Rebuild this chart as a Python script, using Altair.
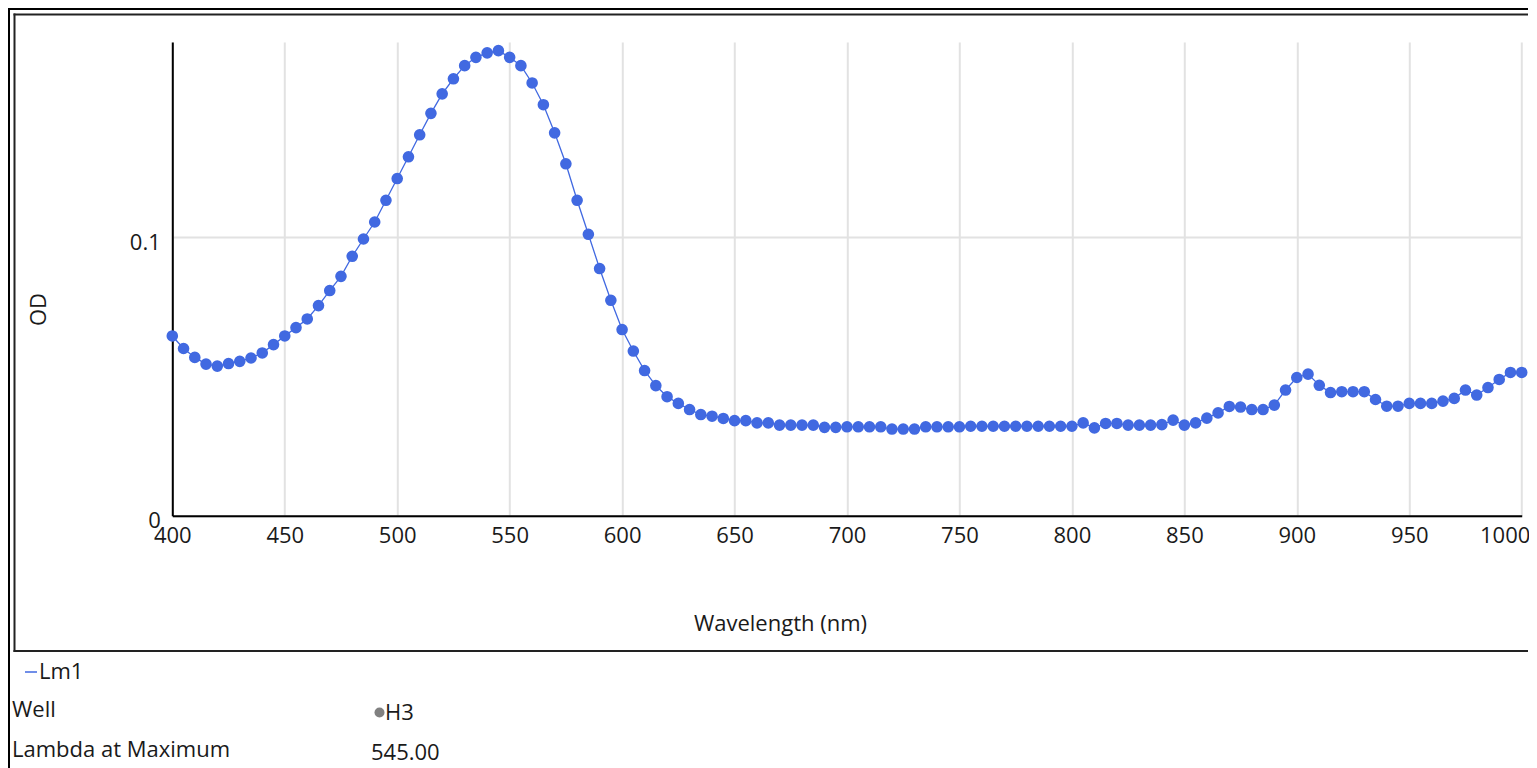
import altair as alt
import pandas as pd

# ---------------- data ----------------
wavelengths = list(range(400, 1001, 5))
od = [
    0.0645, 0.0600, 0.0568, 0.0544, 0.0537, 0.0546, 0.0554, 0.0566, 0.0584, 0.0614,  # 400-445
    0.0645, 0.0675, 0.0706, 0.0754, 0.0808, 0.0859, 0.0931, 0.0993, 0.1054, 0.1132,  # 450-495
    0.1210, 0.1288, 0.1367, 0.1444, 0.1514, 0.1568, 0.1615, 0.1645, 0.1661, 0.1669,  # 500-545
    0.1645, 0.1615, 0.1553, 0.1475, 0.1374, 0.1263, 0.1132, 0.1010, 0.0887, 0.0773,  # 550-595
    0.0668, 0.0591, 0.0521, 0.0467, 0.0427, 0.0403, 0.0381, 0.0363, 0.0357, 0.0349,  # 600-645
    0.0341, 0.0341, 0.0333, 0.0333, 0.0325, 0.0325, 0.0325, 0.0325, 0.0317, 0.0317,  # 650-695
    0.0319, 0.0319, 0.0319, 0.0319, 0.0311, 0.0311, 0.0311, 0.0319, 0.0319, 0.0319,  # 700-745
    0.0319, 0.0321, 0.0321, 0.0321, 0.0321, 0.0321, 0.0321, 0.0321, 0.0321, 0.0321,  # 750-795
    0.0321, 0.0333, 0.0315, 0.0331, 0.0331, 0.0325, 0.0325, 0.0325, 0.0327, 0.0343,  # 800-845
    0.0325, 0.0333, 0.0350, 0.0369, 0.0392, 0.0390, 0.0381, 0.0381, 0.0397, 0.0451,  # 850-895
    0.0496, 0.0508, 0.0468, 0.0442, 0.0445, 0.0445, 0.0445, 0.0417, 0.0393, 0.0393,  # 900-945
    0.0403, 0.0403, 0.0403, 0.0411, 0.0421, 0.0451, 0.0433, 0.0460, 0.0489, 0.0514,  # 950-995
    0.0514,                                                                            # 1000
]
assert len(wavelengths) == len(od)

x_ticks = list(range(400, 1001, 50))
y_ticks = [0, 0.1]
x_title = "Wavelength (nm)"
y_title = "OD"
series_name = "Lm1"
well_label, well_value = "Well", "H3"
lambda_label, lambda_value = "Lambda at Maximum", "545.00"

df = pd.DataFrame({"Wavelength": wavelengths, "OD": od})

BLUE = "#4169E1"
FONT = "Open Sans"
FS = 22
TXT = "#1a1a1a"

# plot area placement (page pixels)
X0, Y0 = 172.3, 42.0
W, H = 1349.4, 473.7
PAGE_W, PAGE_H = 1521, 760
RIGHT_END = 8 + PAGE_W - 1  # frames run to the right edge of the picture


def vx(px):
    return px - X0


def vy(py):
    return py - Y0


x_enc = alt.X(
    "Wavelength:Q",
    scale=alt.Scale(domain=[400, 1000], nice=False, zero=False),
    axis=alt.Axis(
        values=x_ticks,
        format="d",
        title=x_title,
        titleX=vx(780),
        titleY=623 - (Y0 + H),
        titleAlign="center",
        titleBaseline="middle",
        titleFont=FONT,
        titleFontSize=FS,
        titleFontWeight="normal",
        titleColor=TXT,
        labelFont=FONT,
        labelFontSize=FS,
        labelColor=TXT,
        labelFlush=False,
        labelBaseline="middle",
        labelPadding=20,
        labelOffset={"condition": {"test": "datum.value === 1000", "value": -17}, "value": 0},
        labelOverlap=False,
        ticks=False,
        tickSize=0,
        domainColor="#000000",
        domainWidth=2,
        grid=True,
        gridColor="#e2e2e2",
        gridWidth=2,
    ),
)
y_enc = alt.Y(
    "OD:Q",
    scale=alt.Scale(domain=[0, 0.17], nice=False),
    axis=alt.Axis(
        values=y_ticks,
        format=".2~f",
        title=y_title,
        titleX=vx(38),
        titleY=vy(309),
        titleAngle=270,
        titleAlign="center",
        titleBaseline="middle",
        titleFont=FONT,
        titleFontSize=FS,
        titleFontWeight="normal",
        titleColor=TXT,
        labelFont=FONT,
        labelFontSize=FS,
        labelColor=TXT,
        labelBaseline="middle",
        labelOffset=5,
        labelPadding=12,
        labelFlush=False,
        labelOverlap=False,
        ticks=False,
        tickSize=0,
        domainColor="#000000",
        domainWidth=2,
        grid=True,
        gridColor="#e2e2e2",
        gridWidth=2,
    ),
)

base = alt.Chart(df)
line = base.mark_line(color=BLUE, strokeWidth=1.3).encode(x=x_enc, y=y_enc)
points = base.mark_circle(color=BLUE, size=135, opacity=1).encode(
    x="Wavelength:Q", y="OD:Q"
)

one = pd.DataFrame({"k": [0]})
deco = alt.Chart(one)


def hline(x1, x2, y, color="#000000", w=2):
    return deco.mark_rule(color=color, strokeWidth=w, strokeCap="butt").encode(
        x=alt.value(vx(x1)), x2=alt.value(vx(x2)), y=alt.value(vy(y))
    )


def vline(x, y1, y2, color="#000000", w=2):
    return deco.mark_rule(color=color, strokeWidth=w, strokeCap="butt").encode(
        x=alt.value(vx(x)), y=alt.value(vy(y1)), y2=alt.value(vy(y2))
    )


frames = [
    hline(8, RIGHT_END, 9),                    # outer top
    vline(9, 8, 8 + PAGE_H),                   # outer left
    hline(13.5, RIGHT_END, 14.5, "#222222"),   # inner top
    vline(14.5, 13.5, 652, "#222222"),         # inner left
    hline(13.5, RIGHT_END, 651, "#222222"),    # inner bottom
]

legend_dash = deco.mark_rule(color=BLUE, strokeWidth=1.5).encode(
    x=alt.value(vx(25)), x2=alt.value(vx(37)), y=alt.value(vy(672))
)


def label(text, px, py, color=TXT):
    return deco.mark_text(
        align="left", baseline="middle", font=FONT, fontSize=FS, color=color
    ).encode(x=alt.value(vx(px)), y=alt.value(vy(py)), text=alt.value(text))


legend_text = label(series_name, 39, 672)
well_t = label(well_label, 12, 710)
well_dot = deco.mark_circle(color="#808080", size=100, opacity=1).encode(
    x=alt.value(vx(379.5)), y=alt.value(vy(712.5))
)
well_v = label(well_value, 385, 713)
lam_t = label(lambda_label, 12, 750)
lam_v = label(lambda_value, 371, 753)

chart = (
    alt.layer(
        line, points, *frames, legend_dash, legend_text,
        well_t, well_dot, well_v, lam_t, lam_v,
    )
    .properties(
        width=W,
        height=H,
        autosize=alt.AutoSizeParams(type="none"),
        padding={
            "left": X0 - 8,
            "top": Y0 - 8,
            "right": PAGE_W - (X0 - 8) - W,
            "bottom": PAGE_H - (Y0 - 8) - H,
        },
        background="white",
    )
    .configure_view(stroke=None)
)

chart.save("out.html", embed_options={"renderer": "svg", "actions": False})
